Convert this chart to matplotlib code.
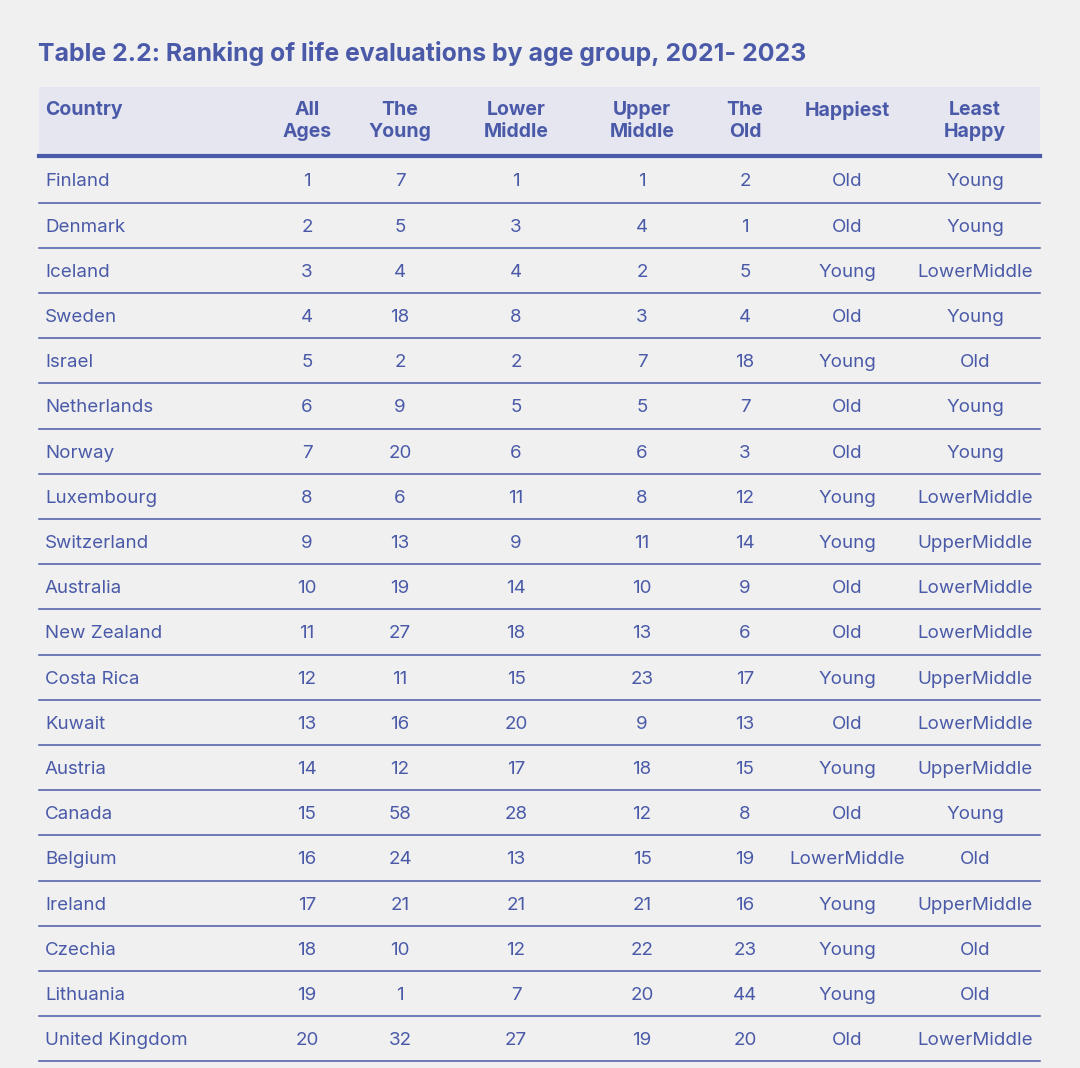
import matplotlib.pyplot as plt
from matplotlib.patches import Rectangle

plt.rcParams['font.family'] = ['Inter', 'DejaVu Sans']

title = "Table 2.2: Ranking of life evaluations by age group, 2021- 2023"
headers = ["Country", "All\nAges", "The\nYoung", "Lower\nMiddle", "Upper\nMiddle",
           "The\nOld", "Happiest", "Least\nHappy"]

countries = ["Finland", "Denmark", "Iceland", "Sweden", "Israel", "Netherlands",
             "Norway", "Luxembourg", "Switzerland", "Australia", "New Zealand",
             "Costa Rica", "Kuwait", "Austria", "Canada", "Belgium", "Ireland",
             "Czechia", "Lithuania", "United Kingdom"]
all_ages = list(range(1, 21))
young = [7, 5, 4, 18, 2, 9, 20, 6, 13, 19, 27, 11, 16, 12, 58, 24, 21, 10, 1, 32]
lower_middle = [1, 3, 4, 8, 2, 5, 6, 11, 9, 14, 18, 15, 20, 17, 28, 13, 21, 12, 7, 27]
upper_middle = [1, 4, 2, 3, 7, 5, 6, 8, 11, 10, 13, 23, 9, 18, 12, 15, 21, 22, 20, 19]
old = [2, 1, 5, 4, 18, 7, 3, 12, 14, 9, 6, 17, 13, 15, 8, 19, 16, 23, 44, 20]
happiest = ["Old", "Old", "Young", "Old", "Young", "Old", "Old", "Young", "Young", "Old",
            "Old", "Young", "Old", "Young", "Old", "LowerMiddle", "Young", "Young",
            "Young", "Old"]
least_happy = ["Young", "Young", "LowerMiddle", "Young", "Old", "Young", "Young",
               "LowerMiddle", "UpperMiddle", "LowerMiddle", "LowerMiddle", "UpperMiddle",
               "LowerMiddle", "UpperMiddle", "Young", "Old", "UpperMiddle", "Old", "Old",
               "LowerMiddle"]

blue = "#4a5aa8"
bg = "#f0f0f0"
band = "#e6e6f1"

fig = plt.figure(figsize=(10.8, 10.68), dpi=100, facecolor=bg)
ax = fig.add_axes([0, 0, 1, 1])
ax.set_xlim(0, 1080)
ax.set_ylim(1068, 0)
ax.axis("off")

# title
ax.text(38, 53, title, fontsize=17.9, fontweight="bold", color=blue, va="center", ha="left")

# header band + heavy rule
left, right = 39, 1040
ax.add_patch(Rectangle((left, 87), right - left, 68, facecolor=band, edgecolor="none"))
ax.plot([left, right], [156, 156], color=blue, lw=3)

col_x = [45, 307, 400, 516, 642, 745, 847, 975]
for i, h in enumerate(headers):
    ax.text(col_x[i], 101, h, fontsize=14, fontweight="bold", color=blue,
            ha="left" if i == 0 else "center", va="top", linespacing=1.32)

row_h = 45.2
y0 = 180
columns = [countries, all_ages, young, lower_middle, upper_middle, old, happiest, least_happy]
for r in range(len(countries)):
    y = y0 + r * row_h
    for c, col in enumerate(columns):
        ax.text(col_x[c], y + 2, str(col[r]), fontsize=13.5, color=blue,
                ha="left" if c == 0 else "center", va="center")
    ax.plot([left, right], [y + 22.5, y + 22.5], color=blue, lw=1.1)

fig.savefig("out.png", dpi=100, facecolor=bg)
